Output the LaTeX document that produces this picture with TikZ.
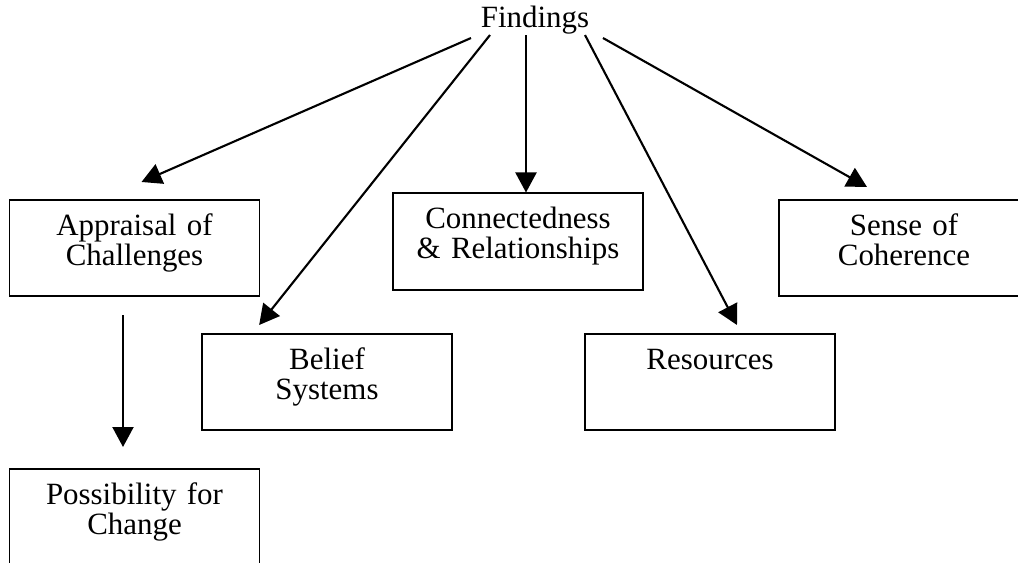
\documentclass[tikz,border=0pt]{standalone}
\usepackage{fontspec}
\setmainfont{Liberation Serif}
\usepackage{tikz}
\usetikzlibrary{calc}
\usetikzlibrary{arrows.meta}

\tikzset{
	box/.style={draw, line width=1pt, anchor=north, text width=5cm, inner xsep=0pt, inner ysep=0.28cm, text height=0.43cm, text depth=0.94cm, align=center},
	link/.style={line width=1.2pt, -{Triangle[length=0.4cm, width=0.42cm]}}
}

\begin{document}
\begin{tikzpicture}[x=0.02cm, y=-0.02cm, font=\fontsize{17.6}{17}\selectfont]
				\clip (0,0) rectangle (1018,563);
				\node[anchor=base, inner sep=0pt] (findings) at (535,28) {Findings};
				
				\node[box] (appraisal) at (134.5,199) {Appraisal of\\Challenges};
				\node[box] (belief) at (327,333) {Belief\\Systems};
				\node[box] (connect) at (518,192.5) {Connectedness\\\& Relationships};
				\node[box] (resources) at (710,333) {Resources};
				\node[box] (sense) at (904,199) {Sense of\\Coherence};
				\node[box] (possibility) at (134.5,468) {Possibility for\\Change};
				
				\draw[link] ($(findings.south)+(-64,3)$) -- ($(appraisal.north)+(7,-17)$);
				\draw[link] ($(findings.south)+(-45,0)$) -- ($(belief.north west)+(58,-8)$);
				\draw[link] ($(findings.south)+(-9,0)$) -- ($(connect.north)+(8,0)$);
				\draw[link] ($(findings.south)+(50,0)$) -- ($(resources.north)+(27,-8)$);
				\draw[link] ($(findings.south)+(68,3)$) -- ($(sense.north)+(-37,-12)$);
				\draw[link] ($(appraisal.south)+(-11.5,18)$) -- ($(possibility.north)+(-11.5,-21)$);
			\end{tikzpicture}
\end{document}
